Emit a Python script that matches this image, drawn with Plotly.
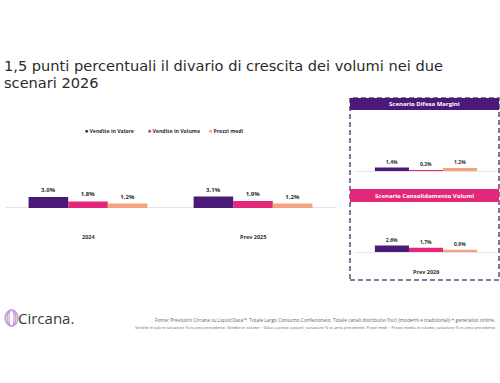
import plotly.graph_objects as go

W, H = 500, 383

# ---------------- data ----------------
series_names = ["Vendite in Valore", "Vendite in Volume", "Prezzi medi"]
series_colors = ["#4b1a78", "#e3287a", "#f5a283"]

left_categories = ["2024", "Prev 2025"]
left_valore = [3.0, 3.1]
left_volume = [1.8, 1.9]
left_prezzi = [1.2, 1.2]

scenario_categories = ["Prev 2026"]
difesa_valore = [1.4]
difesa_volume = [0.2]
difesa_prezzi = [1.2]
consol_valore = [2.6]
consol_volume = [1.7]
consol_prezzi = [0.9]

title_lines = ["1,5 punti percentuali il divario di crescita dei volumi nei due", "scenari 2026"]
scenario_titles = ["Scenario Difesa Margini", "Scenario Consolidamento Volumi"]
footnote_1 = ("Fonte: Previsioni Circana su Liquid Data™. Totale Largo Consumo Confezionato. "
              "Totale canali distributivi fisici (moderni e tradizionali) + generalisti online.")
footnote_2 = ("Vendite in valore variazione % vs anno precedente. Vendite in volume = Valori a prezzi costanti, "
              "variazione % vs anno precedente. Prezzi medi = Prezzo medio in volume, variazione % vs anno precedente")


def px(x):
    return x / W


def py(y):
    return 1 - y / H


FONT = "Open Sans"
TXT = "#2e2e2e"

fig = go.Figure()

groups = [
    ("x", "y", left_categories, [left_valore, left_volume, left_prezzi], 6),
    ("x2", "y2", scenario_categories, [difesa_valore, difesa_volume, difesa_prezzi], 5),
    ("x3", "y3", scenario_categories, [consol_valore, consol_volume, consol_prezzi], 5),
]
for xa, ya, cats, vals, fs in groups:
    for name, color, v in zip(series_names, series_colors, vals):
        fig.add_trace(go.Bar(
            x=cats, y=v, name=name, xaxis=xa, yaxis=ya,
            marker=dict(color=color, line=dict(width=0)),
            texttemplate="<b>%{y:.1f}%</b>", textposition="outside",
            textfont=dict(size=fs, color=TXT, family=FONT),
            cliponaxis=False, showlegend=False, hoverinfo="skip",
        ))

ax_common = dict(showgrid=False, showticklabels=False, showline=False, ticks="",
                 fixedrange=True, type="category")
ay_common = dict(showgrid=False, showticklabels=False, showline=False, ticks="", fixedrange=True,
                 zeroline=True, zerolinecolor="#e4e4e4", zerolinewidth=1)

fig.update_layout(
    width=W, height=H,
    margin=dict(l=0, r=0, t=0, b=0),
    paper_bgcolor="white", plot_bgcolor="rgba(0,0,0,0)",
    separators=",.",
    barmode="group", bargap=0.28, bargroupgap=0,
    font=dict(family=FONT, color=TXT),
    xaxis=dict(domain=[px(5.5), px(335.5)], range=[-0.5, 1.5], **ax_common),
    yaxis=dict(domain=[py(230), py(150)], range=[-6, 15.8], **ay_common),
    xaxis2=dict(domain=[px(355), px(497)], range=[-0.5, 0.5], **ax_common),
    yaxis2=dict(domain=[py(180), py(130)], range=[-3.6, 16.4], **ay_common),
    xaxis3=dict(domain=[px(355), px(497)], range=[-0.5, 0.5], **ax_common),
    yaxis3=dict(domain=[py(262), py(215)], range=[-4, 14.8], **ay_common),
)

ann = []
# title (two lines, tight leading)
for line, yc in zip(title_lines, [66, 83]):
    ann.append(dict(text=line, x=px(3), y=py(yc), xref="paper", yref="paper",
                    xanchor="left", yanchor="middle", align="left", showarrow=False,
                    borderpad=0,
                    font=dict(size=14.6, color="#2b2b2b", family="DejaVu Sans")))
# legend
leg_x = [83, 146, 207]
for name, color, lx in zip(series_names, series_colors, leg_x):
    ann.append(dict(text=f"<span style='color:{color}'>■</span> <b>{name}</b>",
                    x=px(lx), y=py(131), xref="paper", yref="paper",
                    xanchor="left", yanchor="middle", showarrow=False,
                    font=dict(size=5.2, color=TXT, family=FONT)))
# category labels
for i, c in enumerate(left_categories):
    ann.append(dict(text=f"<b>{c}</b>", x=i, y=py(237), xref="x", yref="paper",
                    xanchor="center", yanchor="middle", showarrow=False,
                    font=dict(size=5.5, color=TXT, family=FONT)))
for i, c in enumerate(scenario_categories):
    ann.append(dict(text=f"<b>{c}</b>", x=i, y=py(272), xref="x3", yref="paper",
                    xanchor="center", yanchor="middle", showarrow=False,
                    font=dict(size=5.5, color=TXT, family=FONT)))
# scenario headers
ann.append(dict(text=f"<b>{scenario_titles[0]}</b>", x=px(424.5), y=py(104), xref="paper", yref="paper",
                xanchor="center", yanchor="middle", showarrow=False,
                font=dict(size=6, color="white", family=FONT)))
ann.append(dict(text=f"<b>{scenario_titles[1]}</b>", x=px(424.5), y=py(195.5), xref="paper", yref="paper",
                xanchor="center", yanchor="middle", showarrow=False,
                font=dict(size=6, color="white", family=FONT)))
# footer
ann.append(dict(text="Circana.", x=px(16), y=py(318), xref="paper", yref="paper",
                xanchor="left", yanchor="middle", showarrow=False,
                font=dict(size=15, color="#3a3a3a", family=FONT)))
ann.append(dict(text=footnote_1, x=px(497), y=py(320), xref="paper", yref="paper",
                xanchor="right", yanchor="middle", showarrow=False,
                font=dict(size=4.8, color="#666", family=FONT)))
ann.append(dict(text=footnote_2, x=px(497), y=py(327), xref="paper", yref="paper",
                xanchor="right", yanchor="middle", showarrow=False,
                font=dict(size=3.85, color="#666", family=FONT)))
fig.update_layout(annotations=ann)

shapes = []
# dashed box
shapes.append(dict(type="rect", xref="paper", yref="paper",
                   x0=px(350), x1=px(499), y0=py(280), y1=py(98),
                   line=dict(color="#5b4d78", width=1.5, dash="5px,3px"), fillcolor="rgba(0,0,0,0)"))
# headers
shapes.append(dict(type="rect", xref="paper", yref="paper",
                   x0=px(350), x1=px(499), y0=py(110), y1=py(98),
                   line=dict(width=0), fillcolor="#4b1a78"))
shapes.append(dict(type="rect", xref="paper", yref="paper",
                   x0=px(350), x1=px(499), y0=py(202), y1=py(189),
                   line=dict(width=0), fillcolor="#e3287a"))
# logo rings
for (x0, x1, col) in [(5, 18, "#b79bd6"), (7, 16, "#d08fc8"), (9, 14, "#c7a6e0")]:
    shapes.append(dict(type="circle", xref="paper", yref="paper",
                       x0=px(x0), x1=px(x1), y0=py(326), y1=py(310),
                       line=dict(color=col, width=1.3), fillcolor="rgba(0,0,0,0)"))
fig.update_layout(shapes=shapes)

fig.write_html("out.html", config={"displayModeBar": False},
               post_script="document.body.style.margin='0';")
